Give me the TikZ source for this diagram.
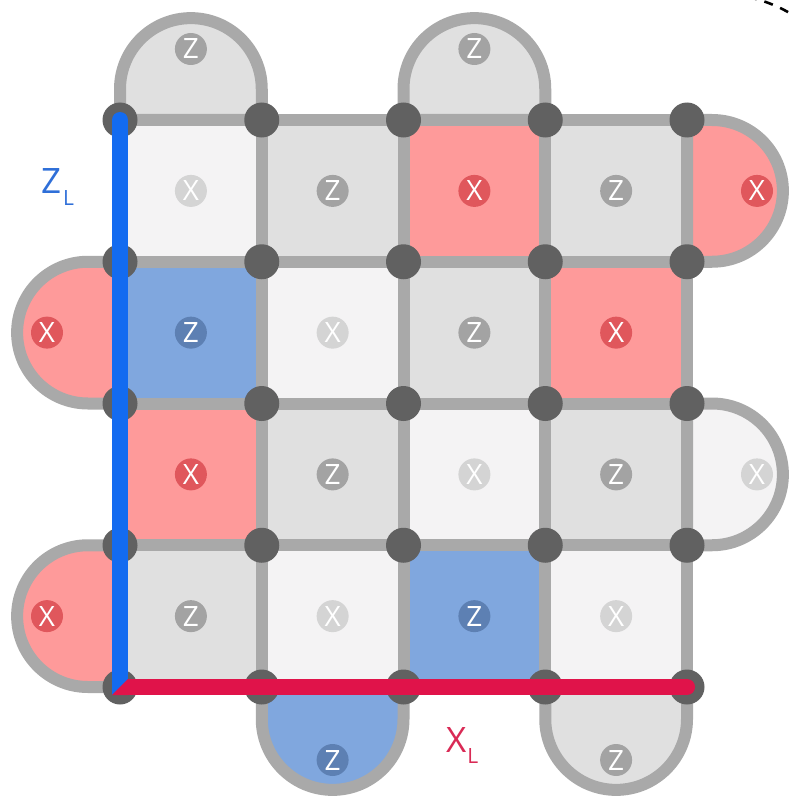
\documentclass[tikz,border=0pt]{standalone}
\usepackage{fontspec}
\setmainfont{Open Sans}
\usetikzlibrary{calc}
\definecolor{cL}{HTML}{F4F3F4}
\definecolor{cG}{HTML}{E0E0E0}
\definecolor{cR}{HTML}{FE9A9A}
\definecolor{cB}{HTML}{80A7DE}
\definecolor{kL}{HTML}{D4D4D4}
\definecolor{kG}{HTML}{A3A3A3}
\definecolor{kR}{HTML}{E0575C}
\definecolor{kB}{HTML}{5D80B3}
\definecolor{gridc}{HTML}{A9A9A9}
\definecolor{dotc}{HTML}{616161}
\definecolor{zlc}{HTML}{136BF0}
\definecolor{xlc}{HTML}{E0134A}
\definecolor{zltext}{HTML}{2F6FD8}
\definecolor{xltext}{HTML}{D92A55}
\tikzset{
  edge/.style={draw=gridc, line width=12pt, line join=round},
  lab/.style={circle, minimum size=32pt, inner sep=0pt, text=white,
    font=\fontsize{28}{28}\selectfont},
  labL/.style={lab, fill=kL}, labG/.style={lab, fill=kG},
  labR/.style={lab, fill=kR}, labB/.style={lab, fill=kB},
  vdot/.style={circle, fill=dotc, minimum size=35pt, inner sep=0pt},
  zline/.style={draw=zlc, line width=16pt},
  xline/.style={draw=xlc, line width=16pt},
}
\begin{document}
\begin{tikzpicture}[x=1pt,y=-1pt]
\useasboundingbox (0,0) rectangle (792,797);
\foreach \i in {0,...,4} \foreach \j in {0,...,4}
  \coordinate (v\i\j) at ({120+141.75*\i},{120+141.75*\j});
% cells
\foreach \c/\r/\t/\s in {0/0/L/X,1/0/G/Z,2/0/R/X,3/0/G/Z,
                         0/1/B/Z,1/1/L/X,2/1/G/Z,3/1/R/X,
                         0/2/R/X,1/2/G/Z,2/2/L/X,3/2/G/Z,
                         0/3/G/Z,1/3/L/X,2/3/B/Z,3/3/L/X}
  \fill[c\t] ({120+141.75*\c},{120+141.75*\r}) rectangle ++(141.75,141.75);
% top bumps
\path[edge, fill=cG] (v00) -- ++(0,-31) arc[start angle=180, end angle=360, radius=70.875] -- (v10) -- cycle;
\path[edge, fill=cG] (v20) -- ++(0,-31) arc[start angle=180, end angle=360, radius=70.875] -- (v30) -- cycle;
% bottom bumps
\path[edge, fill=cB] (v14) -- ++(0,32) arc[start angle=180, end angle=0, radius=70.875] -- (v24) -- cycle;
\path[edge, fill=cG] (v34) -- ++(0,32) arc[start angle=180, end angle=0, radius=70.875] -- (v44) -- cycle;
% left bumps
\path[edge, fill=cR] (v01) -- ++(-32,0) arc[start angle=270, end angle=90, radius=70.875] -- (v02) -- cycle;
\path[edge, fill=cR] (v03) -- ++(-32,0) arc[start angle=270, end angle=90, radius=70.875] -- (v04) -- cycle;
% right bumps
\path[edge, fill=cR] (v40) -- ++(25,0) arc[start angle=270, end angle=450, radius=70.875] -- (v41) -- cycle;
\path[edge, fill=cL] (v42) -- ++(25,0) arc[start angle=270, end angle=450, radius=70.875] -- (v43) -- cycle;
% grid lines
\foreach \j in {0,...,4} \draw[edge] (v0\j) -- (v4\j);
\foreach \i in {0,...,4} \draw[edge] (v\i0) -- (v\i4);
% vertices
\foreach \i in {0,...,4} \foreach \j in {0,...,4}
  \node[vdot] (d\i\j) at (v\i\j) {};
% logical operators
\draw[zline, line cap=round] (v00) -- (v04);
\draw[xline, line cap=round] (v04) -- (v44);
\fill[zlc] ($(v04)+(-8,-8)$) -- ($(v04)+(8,-8)$) -- ($(v04)+(-8,8)$) -- cycle;
\fill[xlc] ($(v04)+(8,-8)$) -- ($(v04)+(8,8)$) -- ($(v04)+(-8,8)$) -- cycle;
% stabilizer labels
\foreach \c/\r/\t/\s in {0/0/L/X,1/0/G/Z,2/0/R/X,3/0/G/Z,
                         0/1/B/Z,1/1/L/X,2/1/G/Z,3/1/R/X,
                         0/2/R/X,1/2/G/Z,2/2/L/X,3/2/G/Z,
                         0/3/G/Z,1/3/L/X,2/3/B/Z,3/3/L/X}
  \node[lab\t] (s\c\r) at ({190.9+141.75*\c},{190.9+141.75*\r}) {\s};
\node[labG] (bt0) at (190.9,49) {Z};
\node[labG] (bt2) at (474.4,49) {Z};
\node[labB] (bb1) at (332.6,760) {Z};
\node[labG] (bb3) at (616.1,760) {Z};
\node[labR] (bl1) at (47,332.6) {X};
\node[labR] (bl3) at (47,616.1) {X};
\node[labR] (br0) at (757,190.9) {X};
\node[labL] (br2) at (757,474.4) {X};
% logical labels
\node[anchor=base west, inner sep=0pt, text=zltext, font=\fontsize{35}{35}\selectfont]
  (zlab) at (41,193) {Z\kern2pt\raisebox{-12pt}{\fontsize{21}{21}\selectfont L}};
\node[anchor=base west, inner sep=0pt, text=xltext, font=\fontsize{35}{35}\selectfont]
  (xlab) at (446,752) {X\kern1pt\raisebox{-11pt}{\fontsize{21}{21}\selectfont L}};
% dashed arc fragment at top right
\coordinate (da) at (748,-3);
\coordinate (db) at (800,20);
\draw[black, line width=2.6pt, dash pattern=on 9pt off 8pt] (da) .. controls (766,1) and (784,8) .. (db);
\end{tikzpicture}
\end{document}
